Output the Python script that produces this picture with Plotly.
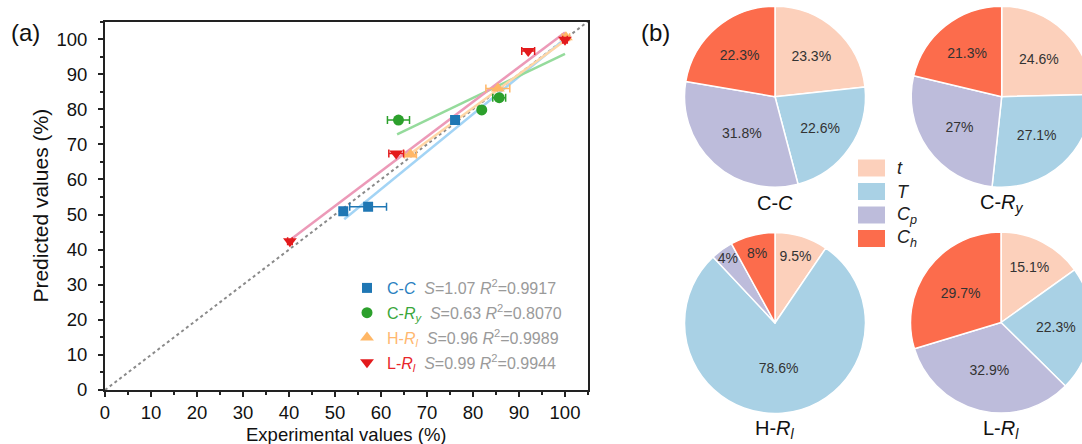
import plotly.graph_objects as go

W, H = 1100, 444

# ---------------- panel (a) data ----------------
series_names = ["C-<i>C</i>", "C-<i>R</i><sub><i>y</i></sub>", "H-<i>R</i><sub><i>l</i></sub>", "L-<i>R</i><sub><i>l</i></sub>"]
S_values = ["1.07", "0.63", "0.96", "0.99"]
R2_values = ["0.9917", "0.8070", "0.9989", "0.9944"]

cc_x = [51.8, 57.2, 76.1]
cc_y = [50.9, 52.2, 76.9]
cc_xerr = [0.0, 4.0, 0.6]

cry_x = [63.8, 81.9, 85.7]
cry_y = [76.9, 79.8, 83.3]
cry_xerr = [2.4, 0.5, 1.4]

hrl_x = [66.4, 85.4, 100.2]
hrl_y = [67.1, 85.9, 100.5]
hrl_xerr = [1.3, 2.6, 0.8]

lrl_x = [40.2, 63.3, 92.0, 100.0]
lrl_y = [42.4, 67.4, 96.6, 99.8]
lrl_xerr = [0.5, 1.6, 1.4, 0.5]

fit_slope = [1.07, 0.63, 0.96, 0.99]
fit_intercept = [-7.0, 32.8, 3.6, 2.9]
fit_x0 = [52.0, 63.5, 65.5, 40.0]
fit_x1 = [100.0, 100.0, 100.0, 100.0]

diag = [0, 105]

# ---------------- panel (b) data ----------------
factor_labels = ["t", "T", "C<sub>p</sub>", "C<sub>h</sub>"]
pie_titles = ["C-<i>C</i>", "C-<i>R</i><sub><i>y</i></sub>", "H-<i>R</i><sub><i>l</i></sub>", "L-<i>R</i><sub><i>l</i></sub>"]
pie_cc = [23.3, 22.6, 31.8, 22.3]
pie_cry = [24.6, 27.1, 27.0, 21.3]
pie_hrl = [9.5, 78.6, 4.0, 8.0]
pie_lrl = [15.1, 22.3, 32.9, 29.7]

# ---------------- styles ----------------
marker_colors = ["#1f77b4", "#2ca02c", "#ffb766", "#e31a1c"]
text_colors = ["#2a7fc0", "#3aa63a", "#ffb870", "#e8252a"]
fit_colors = ["#a3d4f5", "#95db9c", "#ffd6a6", "#ec9ab8"]
symbols = ["square", "circle", "triangle-up", "triangle-down"]
sizes = [10, 11, 12, 12]
pie_colors = ["#fcd0bb", "#a9d1e5", "#bdbcdb", "#fc6c4c"]
FONT = "Arial, Liberation Sans, sans-serif"

px_x = lambda p: p / W
px_y = lambda p: 1 - p / H

fig = go.Figure()

# diagonal
fig.add_trace(go.Scatter(x=diag, y=diag, mode="lines", showlegend=False,
                         line=dict(color="#8a8a8a", width=2, dash="dot"), hoverinfo="skip"))

xs = [cc_x, cry_x, hrl_x, lrl_x]
ys = [cc_y, cry_y, hrl_y, lrl_y]
errs = [cc_xerr, cry_xerr, hrl_xerr, lrl_xerr]

# fit lines
for i in range(4):
    x0, x1 = fit_x0[i], fit_x1[i]
    fig.add_trace(go.Scatter(
        x=[x0, x1],
        y=[fit_slope[i] * x0 + fit_intercept[i], fit_slope[i] * x1 + fit_intercept[i]],
        mode="lines", showlegend=False, line=dict(color=fit_colors[i], width=2.5),
        hoverinfo="skip"))

# points
for i in range(4):
    name = (f"<span style='color:{text_colors[i]}'>{series_names[i]}</span>  "
            f"<span style='color:#9a9a9a'><i>S</i>={S_values[i]} <i>R</i><sup>2</sup>={R2_values[i]}</span>")
    fig.add_trace(go.Scatter(
        x=xs[i], y=ys[i], mode="markers", name=name, legendgroup=str(i),
        marker=dict(symbol=symbols[i], size=sizes[i], color=marker_colors[i]),
        error_x=dict(type="data", array=errs[i], color=marker_colors[i], thickness=1.5, width=4),
    ))

axis_common = dict(
    range=[0, 105], showline=True, linecolor="#222", linewidth=2, mirror=True,
    ticks="outside", ticklen=5, tickwidth=1.5, tickcolor="#222", dtick=10, tick0=0,
    minor=dict(ticks="outside", ticklen=3, tickwidth=1.5, tickcolor="#222", dtick=5),
    showgrid=False, zeroline=False,
    tickfont=dict(family=FONT, size=18.5, color="#111"),
)

fig.update_layout(
    width=W, height=H, margin=dict(l=0, r=0, t=0, b=0, autoexpand=False),
    paper_bgcolor="white", plot_bgcolor="white",
    font=dict(family=FONT),
    xaxis=dict(domain=[px_x(105), px_x(588)], anchor="y",
               ticklabelstandoff=0, **axis_common),
    yaxis=dict(domain=[px_y(390), px_y(21.5)], anchor="x",
               title=dict(text="Predicted values (%)", font=dict(family=FONT, size=21, color="#111"), standoff=2),
               ticklabelstandoff=7, **axis_common),
    legend=dict(x=px_x(347), xanchor="left", y=px_y(271), yanchor="top",
                bgcolor="rgba(0,0,0,0)", borderwidth=0, tracegroupgap=1,
                font=dict(family=FONT, size=16)),
    showlegend=True,
)

# x-axis title as annotation
fig.add_annotation(x=px_x(346), y=px_y(434), xref="paper", yref="paper",
                   text="Experimental values (%)", showarrow=False, xanchor="center", yanchor="middle",
                   font=dict(family=FONT, size=18.5, color="#111"))

# pies
pie_vals = [pie_cc, pie_cry, pie_hrl, pie_lrl]
centers = [(775, 96.7), (1001.7, 96.7), (775, 323), (1001, 322.5)]
R = 90.5
for i in range(4):
    cx, cy = centers[i]
    fig.add_trace(go.Pie(
        values=pie_vals[i], labels=factor_labels, sort=False, direction="clockwise", rotation=0,
        marker=dict(colors=pie_colors, line=dict(color="white", width=1.5)),
        texttemplate="%{value}%", textposition="inside", insidetextorientation="horizontal",
        textfont=dict(family=FONT, size=14, color="#333"),
        domain=dict(x=[px_x(cx - R), px_x(cx + R)], y=[px_y(cy + R), px_y(cy - R)]),
        showlegend=False, hoverinfo="label+percent",
    ))
    fig.add_annotation(x=px_x(cx), y=px_y(cy + R + 16), xref="paper", yref="paper",
                       text=pie_titles[i], showarrow=False, xanchor="center", yanchor="middle",
                       font=dict(family=FONT, size=20, color="#111"))

fig.update_layout(uniformtext=dict(minsize=12, mode="show"))

# pie legend (custom)
leg_rows = [168, 191.5, 215, 238.5]
for i, lab in enumerate(factor_labels):
    yc = leg_rows[i]
    fig.add_shape(type="rect", xref="paper", yref="paper",
                  x0=px_x(858), x1=px_x(885), y0=px_y(yc + 8.5), y1=px_y(yc - 8.5),
                  fillcolor=pie_colors[i], line=dict(width=0))
    fig.add_annotation(x=px_x(895), y=px_y(yc), xref="paper", yref="paper",
                       text=f"<i>{lab}</i>", showarrow=False, xanchor="left", yanchor="middle",
                       font=dict(family=FONT, size=18, color="#222"))

# panel labels
fig.add_annotation(x=px_x(25), y=px_y(32), xref="paper", yref="paper", text="(a)", showarrow=False,
                   xanchor="center", yanchor="middle", font=dict(family=FONT, size=24, color="#111"))
fig.add_annotation(x=px_x(655), y=px_y(32), xref="paper", yref="paper", text="(b)", showarrow=False,
                   xanchor="center", yanchor="middle", font=dict(family=FONT, size=24, color="#111"))

post = ("document.body.style.margin='0';document.body.style.overflow='hidden';"
        "document.documentElement.style.overflow='hidden';")
fig.write_html("out.html", post_script=post, config={"displayModeBar": False})
